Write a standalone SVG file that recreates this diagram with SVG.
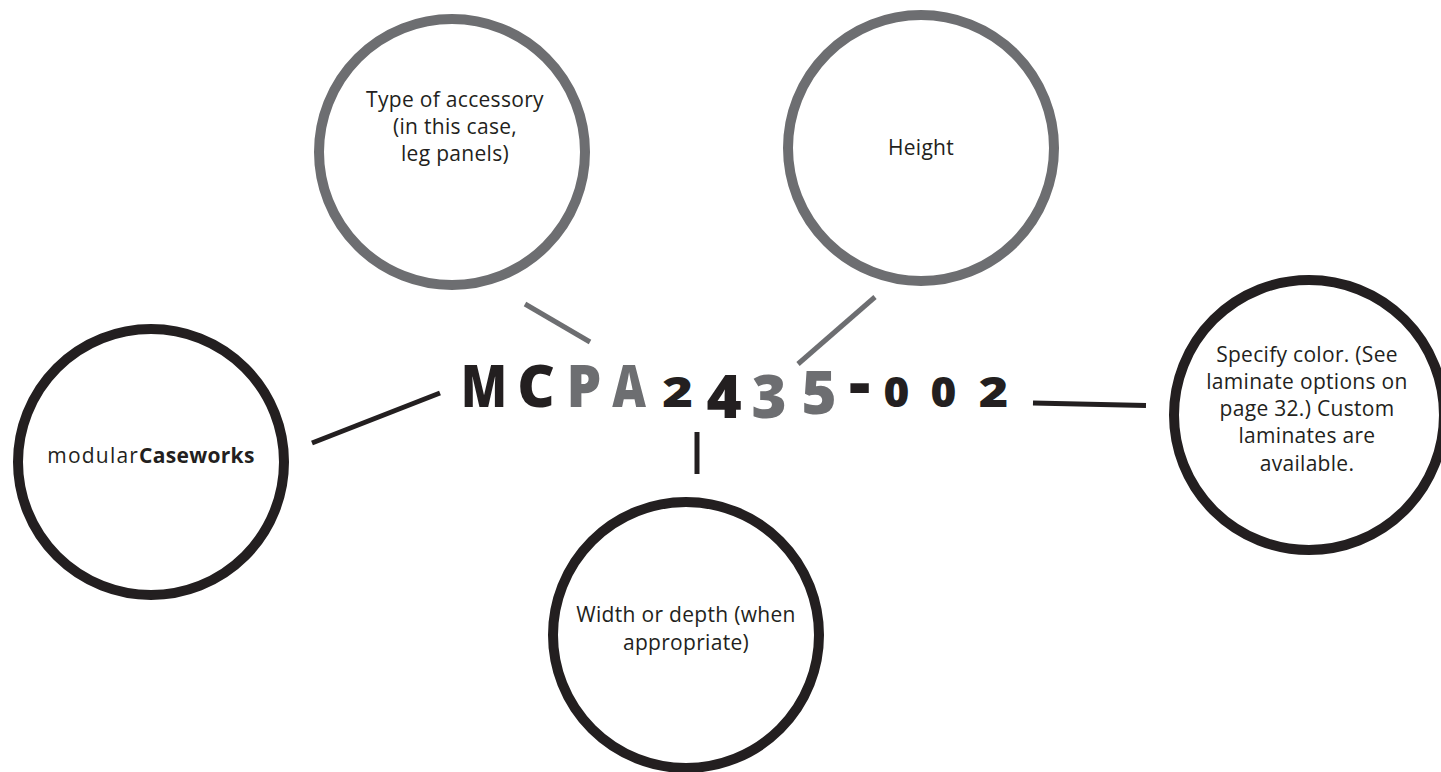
<svg xmlns="http://www.w3.org/2000/svg" width="1441" height="772" viewBox="0 0 1441 772">
<style>
.ring{fill:#fff;stroke-width:10}
.g{stroke:#6d6e71}
.k{stroke:#231f20}
.lbl{font-family:"Open Sans","Noto Sans",sans-serif;font-size:21px;fill:#231f20;text-anchor:middle;letter-spacing:0.3px}
.code{font-family:"Open Sans","Noto Sans",sans-serif;font-weight:800;text-anchor:middle}
.ck{fill:#231f20}
.cg{fill:#6d6e71}
.conn line{stroke-width:5;stroke-linecap:butt}
</style>
<rect width="1441" height="772" fill="#fff"/>
<g id="node-accessory">
<circle class="ring g" cx="452" cy="152" r="133"/>
<text class="lbl" x="455" y="107">Type of accessory</text>
<text class="lbl" x="455" y="134">(in this case,</text>
<text class="lbl" x="455" y="161">leg panels)</text>
</g>
<g id="node-height">
<circle class="ring g" cx="921" cy="148" r="133"/>
<text class="lbl" x="921" y="155">Height</text>
</g>
<g id="node-brand">
<circle class="ring k" cx="151" cy="462" r="133"/>
<text class="lbl" x="151" y="463"><tspan letter-spacing="1.2px">modular</tspan><tspan font-weight="700">Caseworks</tspan></text>
</g>
<g id="node-color">
<circle class="ring k" cx="1309" cy="415" r="135"/>
<text class="lbl" x="1307" y="362">Specify color. (See</text>
<text class="lbl" x="1307" y="389">laminate options on</text>
<text class="lbl" x="1307" y="416">page 32.) Custom</text>
<text class="lbl" x="1307" y="443">laminates are</text>
<text class="lbl" x="1307" y="471">available.</text>
</g>
<g id="node-width">
<circle class="ring k" cx="686" cy="635" r="133"/>
<text class="lbl" x="686" y="622">Width or depth (when</text>
<text class="lbl" x="686" y="650">appropriate)</text>
</g>
<g id="code">
<text class="code ck" font-size="58" transform="translate(484,407) scale(0.82,1)">M</text>
<text class="code ck" font-size="58" transform="translate(536,407) scale(1.0,1)">C</text>
<text class="code cg" font-size="58" transform="translate(584,407) scale(0.95,1)">P</text>
<text class="code cg" font-size="58" transform="translate(629,407) scale(0.8,1)">A</text>
<text class="code ck" font-size="42" transform="translate(677.5,407) scale(1.25,1)">2</text>
<text class="code ck" font-size="60" transform="translate(724,418)">4</text>
<text class="code cg" font-size="60" transform="translate(769,418)">3</text>
<text class="code cg" font-size="60" transform="translate(819,414)">5</text>
<text class="code ck" font-size="58" transform="translate(859.5,405) scale(1.15,1.1)">-</text>
<text class="code ck" font-size="42" transform="translate(896.5,407) scale(1.05,1)">0</text>
<text class="code ck" font-size="42" transform="translate(943.5,407) scale(1.05,1)">0</text>
<text class="code ck" font-size="42" transform="translate(993.5,407) scale(1.2,1)">2</text>
</g>
<g id="connectors" class="conn">
<line class="g" x1="525" y1="304" x2="590" y2="342"/>
<line class="g" x1="875" y1="297" x2="798" y2="364"/>
<line class="k" x1="312" y1="443" x2="440" y2="393"/>
<line class="k" x1="697" y1="432" x2="697" y2="474"/>
<line class="k" x1="1033" y1="403" x2="1146" y2="405.5"/>
</g>
</svg>
